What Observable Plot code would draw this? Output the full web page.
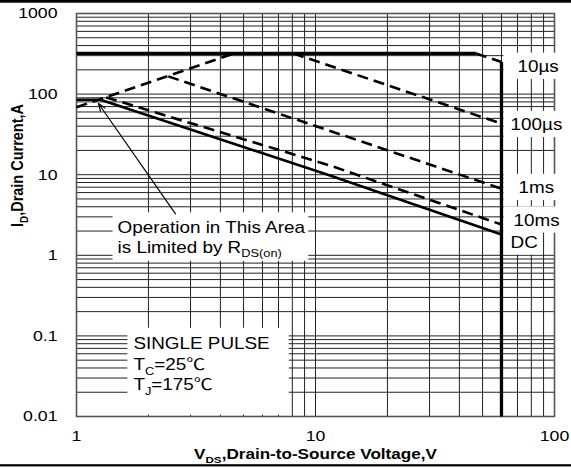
<!DOCTYPE html>
<html><head><meta charset="utf-8">
<script src="https://cdn.jsdelivr.net/npm/d3@7"></script>
<script src="https://cdn.jsdelivr.net/npm/@observablehq/plot@0.6"></script>
<style>
body{margin:0;background:#fff}
svg{font-family:"Liberation Sans",Arial,"Noto Sans CJK SC",sans-serif}
</style>
</head><body><div id="chart"></div>
<script>
// ---------- data ----------
const gridV = [1,2,3,4,5,6,7,8,9,10,20,30,40,50,60,70,80,90,100];
const gridI = [0.01,0.02,0.03,0.04,0.05,0.06,0.07,0.08,0.09,
               0.1,0.2,0.3,0.4,0.5,0.6,0.7,0.8,0.9,
               1,2,3,4,5,6,7,8,9,
               10,20,30,40,50,60,70,80,90,
               100,200,300,400,500,600,700,800,900,1000];
const xTicks = [1, 10, 100];
const xTickLabels = ["1", "10", "100"];
const yTicks = [0.01, 0.1, 1, 10, 100, 1000];
const yTickLabels = ["0.01", "0.1", "1", "10", "100", "1000"];

// boundaries (V, A)
const limitV = [1, 46.9];      const limitI = [320, 320];   // package current limit
const bvV    = [60, 60];       const bvI    = [250, 0.01];  // breakdown voltage limit
const rdsV   = [1, 4.57];      const rdsI   = [68.8, 320];  // RDS(on) limit
const us10V  = [46.9, 60];     const us10I  = [320, 250];
const us100V = [8.06, 60];     const us100I = [320, 43];
const ms1V   = [2.42, 60];     const ms1I   = [166, 6.7];
const ms10V  = [1.33, 11.5, 60];      const ms10I = [91, 13, 2.41];
const dcV    = [1, 1.26, 11.5, 60];   const dcI   = [85, 85, 9.8, 1.81];

const seriesNames = ["10µs", "100µs", "1ms", "10ms", "DC"];
const seriesLabelV = [70, 65.5, 70.7, 67.4, 65.5];
const seriesLabelI = [216, 41, 6.78, 2.68, 1.43];

const noteLines = ["Operation in This Area", "is Limited by R_{DS(on)}"];
const noteV = [1.485, 1.485];
const noteI = [2.19, 1.25];
const arrowFrom = {V: 2.595, I: 3.27};
const arrowTo   = {V: 1.236, I: 76.4};

const pulseLines = ["SINGLE PULSE", "T_{C}=25℃", "T_{J}=175℃"];
const pulseV = [1.73, 1.73, 1.73];
const pulseI = [0.0787, 0.0433, 0.0244];

const xTitle = "V_{DS},Drain-to-Source Voltage,V";
const yTitle = "I_{D},Drain Current,A";

// ---------- tables ----------
const pts = (name, V, I) => V.map((v, i) => ({series: name, V: v, I: I[i]}));
const thickRows = [...pts("limit", limitV, limitI), ...pts("bv", bvV, bvI)];
const dashRows = [...pts("rds", rdsV, rdsI), ...pts("10µs", us10V, us10I),
                  ...pts("100µs", us100V, us100I), ...pts("1ms", ms1V, ms1I),
                  ...pts("10ms", ms10V, ms10I)];
const dcRows = pts("DC", dcV, dcI);
const seriesLabels = seriesNames.map((t, i) => ({t, V: seriesLabelV[i], I: seriesLabelI[i]}));
const notes = noteLines.map((t, i) => ({t, V: noteV[i], I: noteI[i]}));
const pulses = pulseLines.map((t, i) => ({t, V: pulseV[i], I: pulseI[i]}));
const xLab = new Map(xTicks.map((d, i) => [d, xTickLabels[i]]));
const yLab = new Map(yTicks.map((d, i) => [d, yTickLabels[i]]));

const plot = Plot.plot({
  width: 571, height: 468,
  marginLeft: 76, marginRight: 17, marginTop: 13, marginBottom: 52,
  style: {fontSize: "15px", background: "#fff"},
  x: {type: "log", domain: [1, 100], axis: null},
  y: {type: "log", domain: [0.01, 1000], axis: null},
  marks: [
    Plot.ruleX(gridV, {stroke: "#222", strokeWidth: 1}),
    Plot.ruleY(gridI, {stroke: "#222", strokeWidth: 1}),
    Plot.frame({stroke: "#555", strokeWidth: 1.6, ariaDescription: "frame"}),
    Plot.line(thickRows, {x: "V", y: "I", z: "series", stroke: "#000", strokeWidth: 3.3, strokeLinecap: "butt", ariaDescription: "curves"}),
    Plot.line(dcRows, {x: "V", y: "I", z: "series", stroke: "#000", strokeWidth: 2.6, strokeLinecap: "butt"}),
    Plot.line(dashRows, {x: "V", y: "I", z: "series", stroke: "#000", strokeWidth: 2.6, strokeDasharray: "11,6", strokeLinecap: "butt"}),
    Plot.arrow([{a: arrowFrom, b: arrowTo}], {x1: d => d.a.V, y1: d => d.a.I, x2: d => d.b.V, y2: d => d.b.I,
      stroke: "#000", strokeWidth: 1.2, headLength: 10, headAngle: 40}),
    Plot.text(seriesLabels, {x: "V", y: "I", text: "t", textAnchor: "start", fontSize: 16, fill: "#000", ariaDescription: "series-labels"}),
    Plot.text(notes, {x: "V", y: "I", text: "t", textAnchor: "start", fontSize: 16, fill: "#000", ariaDescription: "note"}),
    Plot.text(pulses, {x: "V", y: "I", text: "t", textAnchor: "start", fontSize: 16, fill: "#000", ariaDescription: "pulse"}),
    Plot.axisX(xTicks, {anchor: "bottom", tickSize: 0, tickPadding: 14, tickFormat: d => xLab.get(d), fontSize: 15, label: null}),
    Plot.axisY(yTicks, {anchor: "left", tickSize: 0, tickPadding: 19, tickFormat: d => yLab.get(d), fontSize: 15, label: null}),
    Plot.text([xTitle], {frameAnchor: "bottom", lineAnchor: "middle", dy: 38, fontWeight: "bold", fontSize: 14.5, fill: "#000"}),
    Plot.text([yTitle], {frameAnchor: "left", lineAnchor: "middle", rotate: -90, dx: -59, dy: 12, fontWeight: "bold", fontSize: 14.5, fill: "#000"})
  ]
});
document.getElementById("chart").append(plot);

// ---------- post-processing: subscripts, horizontal glyph stretch, label boxes ----------
const sx = 1.18;
const svg = d3.select(plot);
svg.selectAll("text").each(function () {
  const s = this.textContent;
  const fs = parseFloat(getComputedStyle(this).fontSize) || 15;
  if (s.includes("_{")) {
    this.textContent = "";
    const re = /_\{([^}]*)\}/g; let last = 0, m, shifted = false;
    const add = (str, sub) => {
      const ts = d3.select(this).append("tspan").text(str);
      if (sub) { ts.attr("font-size", fs * 0.68).attr("dy", fs * 0.28); shifted = true; }
      else if (shifted) { ts.attr("dy", -fs * 0.28); shifted = false; }
    };
    while ((m = re.exec(s))) {
      if (m.index > last) add(s.slice(last, m.index), false);
      add(m[1], true);
      last = re.lastIndex;
    }
    if (last < s.length) add(s.slice(last), false);
  }
  const t = this.getAttribute("transform");
  if (t && /translate\(/.test(t)) {
    this.setAttribute("transform", t.replace(/translate\([^)]*\)/, mm => mm + ` scale(${sx},1)`));
  } else {
    const x = +this.getAttribute("x") || 0, y = +this.getAttribute("y") || 0;
    this.removeAttribute("x"); this.removeAttribute("y");
    this.setAttribute("transform", `translate(${x},${y}) scale(${sx},1)` + (t ? " " + t : ""));
  }
});

const base = plot.getBoundingClientRect();
const rel = r => ({l: r.left - base.left, r: r.right - base.left, t: r.top - base.top, b: r.bottom - base.top});
const boxes = [];
function unionBox(nodes) {
  let bb = null;
  nodes.forEach(n => { const r = rel(n.getBoundingClientRect());
    bb = bb ? {l: Math.min(bb.l, r.l), r: Math.max(bb.r, r.r), t: Math.min(bb.t, r.t), b: Math.max(bb.b, r.b)} : r; });
  return bb;
}
const nb = unionBox(plot.querySelectorAll('g[aria-description="note"] text'));
if (nb) boxes.push({l: nb.l - 5, r: nb.r + 3, t: nb.t - 6, b: nb.b + 1});
const pb = unionBox(plot.querySelectorAll('g[aria-description="pulse"] text'));
if (pb) boxes.push({l: pb.l - 6, r: pb.r + 19, t: pb.t - 7, b: pb.b + 17});
const x60 = plot.scale("x").apply(60);
plot.querySelectorAll('g[aria-description="series-labels"] text').forEach(n => {
  const r = rel(n.getBoundingClientRect());
  boxes.push({l: x60 + 2.5, r: r.r + 4, t: r.t - 5, b: r.b + 3});
});
const frameG = plot.querySelector('g[aria-description="curves"]');
const bg = document.createElementNS("http://www.w3.org/2000/svg", "g");
plot.insertBefore(bg, frameG);
d3.select(bg).selectAll("rect").data(boxes).join("rect")
  .attr("x", d => d.l).attr("y", d => d.t).attr("width", d => d.r - d.l).attr("height", d => d.b - d.t)
  .attr("fill", "#fff");

// page frame lines (top and bottom border of the figure)
svg.append("rect").attr("x", 0).attr("y", 0).attr("width", 571).attr("height", 2.7).attr("fill", "#000");
svg.append("rect").attr("x", 0).attr("y", 464.2).attr("width", 571).attr("height", 2.2).attr("fill", "#000");
</script>
</body></html>
